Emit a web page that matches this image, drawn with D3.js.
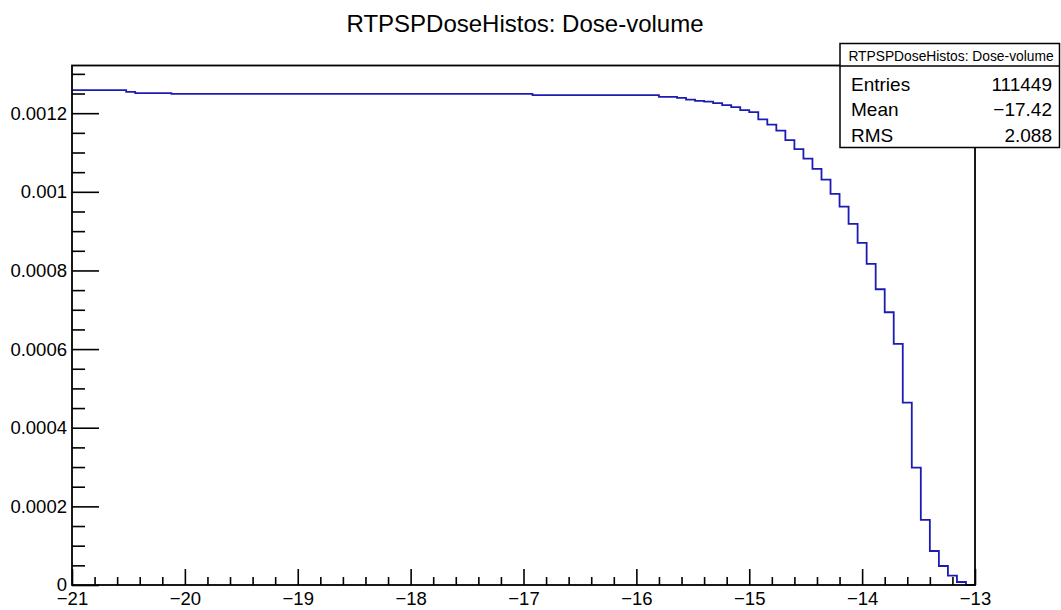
<!DOCTYPE html>
<html>
<head>
<meta charset="utf-8">
<script src="https://cdn.jsdelivr.net/npm/d3@7"></script>
<style>
html,body{margin:0;padding:0;background:#fff;}
svg{display:block;font-family:"Liberation Sans",Arial,sans-serif;}
</style>
</head>
<body>
<svg id="chart" width="1061" height="610"></svg>
<script>
// ---- data ----
const chartTitle = "RTPSPDoseHistos: Dose-volume";
const xRange = [-21, -13];
const binValues = [
  0.0012585, 0.0012585, 0.0012585, 0.0012585, 0.0012585, 0.0012585,
  0.0012541,
  0.0012508, 0.0012508, 0.0012508, 0.0012508,
  0.0012490, 0.0012490, 0.0012490, 0.0012490, 0.0012490, 0.0012490, 0.0012490, 0.0012490, 0.0012490, 0.0012490,
  0.0012490, 0.0012490, 0.0012490, 0.0012490, 0.0012490, 0.0012490, 0.0012490, 0.0012490, 0.0012490, 0.0012490,
  0.0012490, 0.0012490, 0.0012490, 0.0012490, 0.0012490, 0.0012490, 0.0012490, 0.0012490, 0.0012490, 0.0012490,
  0.0012490, 0.0012490, 0.0012490, 0.0012490, 0.0012490, 0.0012490, 0.0012490, 0.0012490, 0.0012490, 0.0012490,
  0.0012460, 0.0012460, 0.0012460, 0.0012460, 0.0012460, 0.0012460, 0.0012460,
  0.0012460, 0.0012460, 0.0012460, 0.0012460, 0.0012460, 0.0012460, 0.0012460,
  0.0012414, 0.0012414,
  0.0012389, 0.0012346, 0.0012312, 0.0012295, 0.0012254, 0.0012203, 0.0012152, 0.0012076, 0.0012025,
  0.0011842, 0.0011710, 0.0011557, 0.0011313, 0.0011084, 0.0010845, 0.0010583, 0.0010310,
  0.0009947, 0.0009624, 0.0009183, 0.0008700, 0.0008166, 0.0007522, 0.0006937, 0.0006131,
  0.0004637, 0.0002984, 0.0001654, 0.0000865, 0.0000483, 0.0000237, 0.0000076, 0
];
const xTickValues = [-21, -20, -19, -18, -17, -16, -15, -14, -13];
const yTickValues = [0, 0.0002, 0.0004, 0.0006, 0.0008, 0.001, 0.0012];
const yMax = 0.00132;
const statsTitle = "RTPSPDoseHistos: Dose-volume";
const statsLabels = ["Entries", "Mean", "RMS"];
const statsValues = ["111449", "\u221217.42", "2.088"];

// ---- layout ----
const W = 1061, H = 610;
const L = 72, R = 975, T = 66, B = 585;
const svg = d3.select("#chart");
svg.append("rect").attr("width", W).attr("height", H).attr("fill", "#fff");

const x = d3.scaleLinear().domain(xRange).range([L, R]);
const y = d3.scaleLinear().domain([0, yMax]).range([B, T]);

const nb = binValues.length;
const bw = (xRange[1] - xRange[0]) / nb;
const bins = binValues.map((v, i) => ({x0: xRange[0] + i * bw, x1: xRange[0] + (i + 1) * bw, v}));

// minor tick values
const xMinor = d3.range(0, 41).map(i => xRange[0] + i * 0.2).filter(v => Math.abs(v - Math.round(v)) > 1e-6);
const yMinor = d3.range(0, 27).map(i => i * 0.00005).filter(v => v <= yMax && Math.abs(v / 0.0002 - Math.round(v / 0.0002)) > 1e-6);

// x axis
const gx = svg.append("g").attr("transform", `translate(0,${B})`);
gx.call(d3.axisBottom(x).tickValues(xTickValues).tickSizeInner(-16).tickSizeOuter(0).tickPadding(7)
  .tickFormat(d3.format("d")));
gx.select(".domain").remove();
gx.selectAll("text").attr("font-size", "18.5px").attr("fill", "#000").attr("font-family", "Liberation Sans, Arial, sans-serif");
gx.selectAll("line").attr("stroke", "#000").attr("stroke-width", 1.6);
const gxm = svg.append("g").attr("transform", `translate(0,${B})`);
gxm.call(d3.axisBottom(x).tickValues(xMinor).tickSizeInner(-8).tickSizeOuter(0).tickFormat(""));
gxm.select(".domain").remove();
gxm.selectAll("line").attr("stroke", "#000").attr("stroke-width", 1.6);

// y axis
const gy = svg.append("g").attr("transform", `translate(${L},0)`);
gy.call(d3.axisLeft(y).tickValues(yTickValues).tickSizeInner(-27).tickSizeOuter(0).tickPadding(5)
  .tickFormat(d => d === 0 ? "0" : d.toFixed(4).replace(/0+$/, "")));
gy.select(".domain").remove();
gy.selectAll("text").attr("font-size", "18.5px").attr("fill", "#000").attr("font-family", "Liberation Sans, Arial, sans-serif");
gy.selectAll("line").attr("stroke", "#000").attr("stroke-width", 1.6);
const gym = svg.append("g").attr("transform", `translate(${L},0)`);
gym.call(d3.axisLeft(y).tickValues(yMinor).tickSizeInner(-13).tickSizeOuter(0).tickFormat(""));
gym.select(".domain").remove();
gym.selectAll("line").attr("stroke", "#000").attr("stroke-width", 1.6);

// histogram step line
const pts = [];
bins.forEach(b => { pts.push([x(b.x0), y(b.v)]); pts.push([x(b.x1), y(b.v)]); });
svg.append("path")
  .attr("d", d3.line()(pts))
  .attr("fill", "none")
  .attr("stroke", "#1c1cb4")
  .attr("stroke-width", 1.8);

// frame
svg.append("rect").attr("x", L).attr("y", T - 0.5).attr("width", R - L).attr("height", B - T + 0.5)
  .attr("fill", "none").attr("stroke", "#000").attr("stroke-width", 1.8);

// title
svg.append("text").attr("x", 525).attr("y", 32).attr("text-anchor", "middle")
  .attr("font-size", "24px").attr("fill", "#000").text(chartTitle);

// stats box
const sb = {x: 840, y: 43.5, w: 219.5, h: 104};
svg.append("rect").attr("x", sb.x).attr("y", sb.y).attr("width", sb.w).attr("height", sb.h)
  .attr("fill", "#fff").attr("stroke", "#000").attr("stroke-width", 1.5);
svg.append("line").attr("x1", sb.x).attr("x2", sb.x + sb.w).attr("y1", 66).attr("y2", 66)
  .attr("stroke", "#000").attr("stroke-width", 1.5);
svg.append("text").attr("x", 951).attr("y", 60.5).attr("text-anchor", "middle")
  .attr("font-size", "13.8px").attr("fill", "#000").text(statsTitle);
const rowY = [90.5, 116, 141.5];
statsLabels.forEach((s, i) => {
  svg.append("text").attr("x", 851).attr("y", rowY[i]).attr("font-size", "19px").attr("fill", "#000").text(s);
  svg.append("text").attr("x", 1052).attr("y", rowY[i]).attr("text-anchor", "end")
    .attr("font-size", "19px").attr("fill", "#000").text(statsValues[i]);
});
</script>
</body>
</html>
